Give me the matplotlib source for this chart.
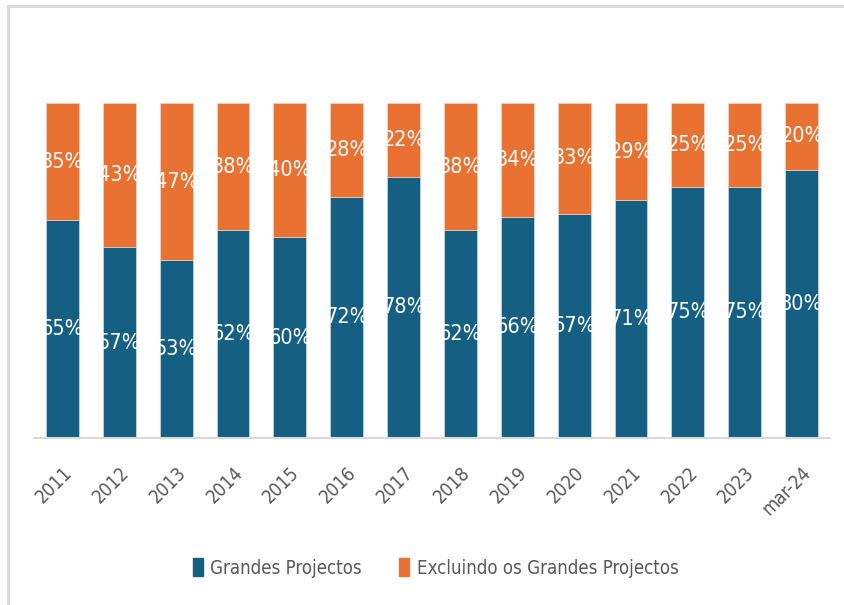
import matplotlib.pyplot as plt
from matplotlib.lines import Line2D
import numpy as np

categories = ["2011", "2012", "2013", "2014", "2015", "2016", "2017",
              "2018", "2019", "2020", "2021", "2022", "2023", "mar-24"]
grandes = [65, 57, 53, 62, 60, 72, 78, 62, 66, 67, 71, 75, 75, 80]
excluindo = [35, 43, 47, 38, 40, 28, 22, 38, 34, 33, 29, 25, 25, 20]

blue = "#156082"
orange = "#e97132"

plt.rcParams["font.family"] = ["DejaVu Sans"]
plt.rcParams["font.stretch"] = "condensed"

fig = plt.figure(figsize=(8.44, 6.05), dpi=100)
ax = fig.add_axes([34 / 844, 1 - 438 / 605, 796 / 844, 335 / 605])

x = np.arange(len(categories))
g = np.array(grandes) / 100
e = np.array(excluindo) / 100
w = 0.58
bars_g = ax.bar(x, g, w, color=blue, edgecolor="#dbe6ee", linewidth=0.4)
bars_e = ax.bar(x, e, w, bottom=g, color=orange, edgecolor="#f8dccd", linewidth=0.4)

# labels are clipped to their bar, like in the original
for i in range(len(categories)):
    t = ax.text(x[i], g[i] / 2, f"{grandes[i]}%", color="white", fontsize=15.5,
                fontweight="medium", ha="center", va="center")
    t.set_clip_path(bars_g[i])
    t = ax.text(x[i], g[i] + e[i] / 2, f"{excluindo[i]}%", color="white",
                fontsize=15.5, fontweight="medium", ha="center", va="center")
    t.set_clip_path(bars_e[i])

ax.set_xlim(-0.5, len(categories) - 0.5)
ax.set_ylim(0, 1)
ax.set_yticks([])
for s in ["top", "right", "left"]:
    ax.spines[s].set_visible(False)
ax.spines["bottom"].set_color("#d9d9d9")
ax.spines["bottom"].set_linewidth(1.5)
ax.set_xticks(x)
ax.set_xticklabels(categories, rotation=45, ha="right", rotation_mode="anchor",
                   fontsize=13.5, color="#595959")
ax.tick_params(axis="x", length=0, pad=18)

# chart frame (left and top edges visible)
fig.add_artist(Line2D([8 / 844, 8 / 844], [0, 1 - 6 / 605], color="#d9d9d9",
                      lw=2, transform=fig.transFigure))
fig.add_artist(Line2D([8 / 844, 1], [1 - 6 / 605, 1 - 6 / 605], color="#d9d9d9",
                      lw=2, transform=fig.transFigure))

handles = [plt.Rectangle((0, 0), 1, 1, color=blue),
           plt.Rectangle((0, 0), 1, 1, color=orange)]
fig.legend(handles, ["Grandes Projectos", "Excluindo os Grandes Projectos"],
           loc="center", bbox_to_anchor=(0.516, 1 - 568 / 605), ncol=2,
           frameon=False, handlelength=0.55, handleheight=1.1, handletextpad=0.4,
           columnspacing=2.0,
           prop={"family": "DejaVu Sans", "stretch": "condensed", "size": 13.4},
           labelcolor="#595959")

fig.savefig("out.png", dpi=100)
